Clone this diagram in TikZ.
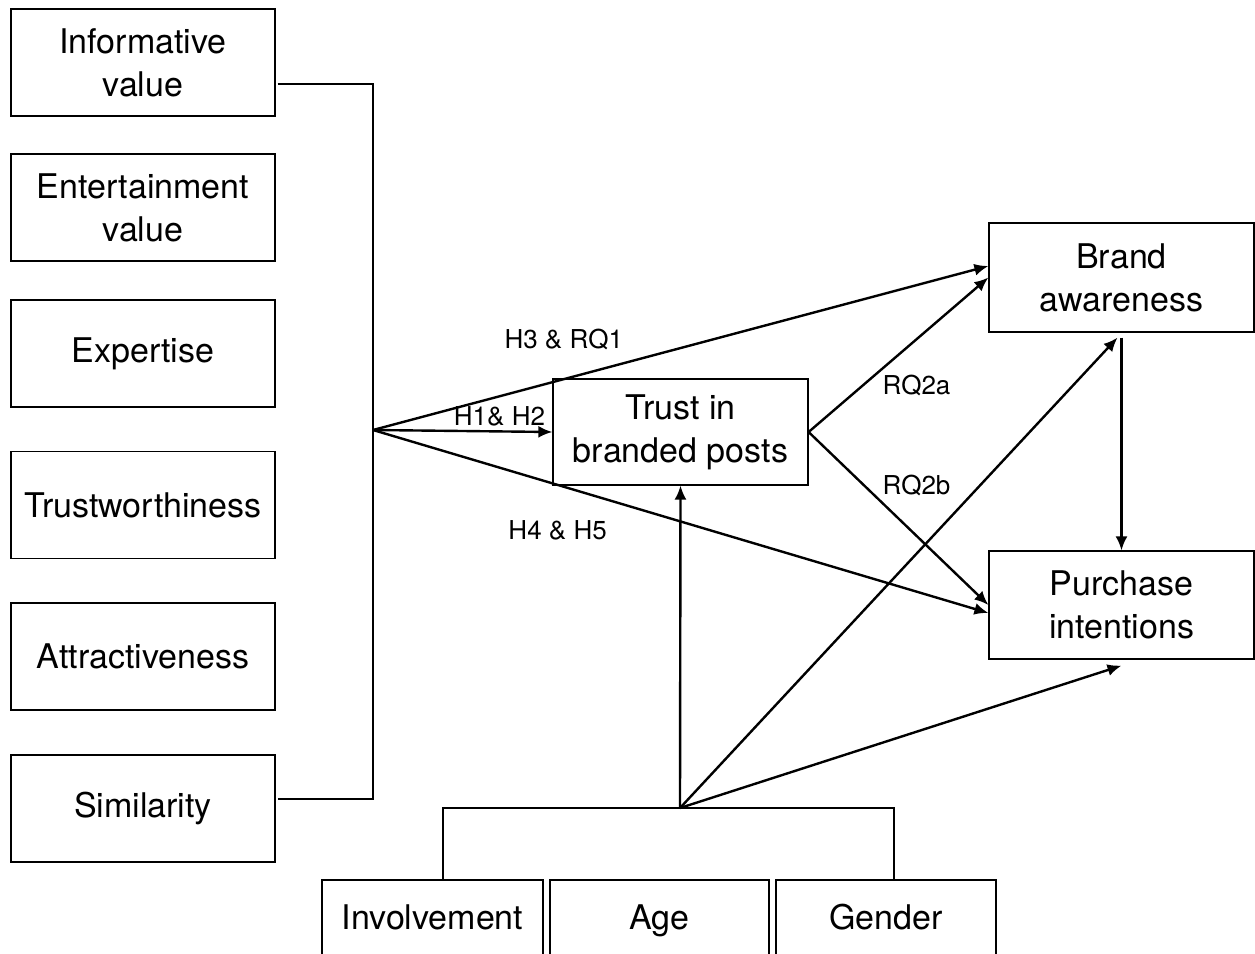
\documentclass[tikz,border=0pt]{standalone}
\usepackage{fontspec}
\setmainfont{TeX Gyre Heros}
\usetikzlibrary{arrows.meta,positioning,calc}

\begin{document}
\begin{tikzpicture}
   [x=0.5pt,y=-0.5pt,
    box/.style={draw,line width=0.6pt,align=center,inner sep=0pt,
      minimum width=132pt,minimum height=53.5pt,
      font=\fontsize{17}{21.5}\selectfont},
    modbox/.style={box,minimum height=40pt,text height=12.5pt,text depth=3.5pt},
    conn/.style={line width=1.2pt},
    arr/.style={conn,-{Latex[length=7pt,width=6pt]}},
    lbl/.style={font=\fontsize{13}{15}\selectfont,inner sep=0pt}]
\useasboundingbox (0,0) rectangle (1255,954);
\clip (0,0) rectangle (1255,954);
% antecedents
\node [box] (info) at (143,62.5) {Informative\\value};
\node [box] (ent) at (143,207.5) {Entertainment\\value};
\node [box] (exp) at (143,353.5) {Expertise};
\node [box] (trw) at (143,505) {Trustworthiness};
\node [box] (attr) at (143,656.5) {Attractiveness};
\node [box] (sim) at (143,808.5) {Similarity};
% mediator and outcomes
\node [box,minimum width=127.5pt,minimum height=53pt] (trust) at (680.5,432) {Trust in\\branded posts};
\node [box,minimum width=132.5pt,minimum height=54.5pt] (brand) at (1121.5,277.5) {Brand\\awareness};
\node [box,minimum width=132.5pt,minimum height=54pt] (purch) at (1121.5,605) {Purchase\\intentions};
% moderators
\node [modbox,minimum width=110.5pt] (invol) at (432.5,920) {Involvement};
\node [modbox,minimum width=109.5pt] (age) at (659.5,920) {Age};
\node [modbox,minimum width=110pt] (gend) at (886,920) {Gender};
\coordinate (hub) at (373,430);
\coordinate (mod) at (680,808);
% brackets
\draw [conn] ($(info.east)+(2,21.5)$) -| (hub) |- ($(sim.east)+(2,-9.5)$);
\draw [conn] ($(invol.north)+(10.5,0)$) |- (mod) -| ($(gend.north)+(8,0)$);
% paths
\draw [arr] (hub) -- node [lbl,pos=.705,yshift=7.5pt] {H1\& H2} (trust.west);
\draw [arr] (hub) -- node [lbl,pos=.31,yshift=20pt] {H3 \& RQ1} ([yshift=5.75pt]brand.west);
\draw [arr] (hub) -- node [lbl,pos=.30,yshift=-22.5pt] {H4 \& H5} ([yshift=-4pt]purch.west);
\draw [arr] (trust.east) -- node [lbl,pos=.6,yshift=-23pt] {RQ2a} (brand.west);
\draw [arr] (trust.east) -- node [lbl,pos=.6,yshift=25pt] {RQ2b} (purch.west);
\draw [arr,shorten <=2.5pt] (brand.south) -- (purch.north);
\draw [arr] (mod) -- (trust.south);
\draw [arr] (mod) -- ([xshift=-2pt,yshift=-2.5pt]brand.south);
\draw [arr] (mod) -- ([yshift=-3pt]purch.south);
\end{tikzpicture}
\end{document}
